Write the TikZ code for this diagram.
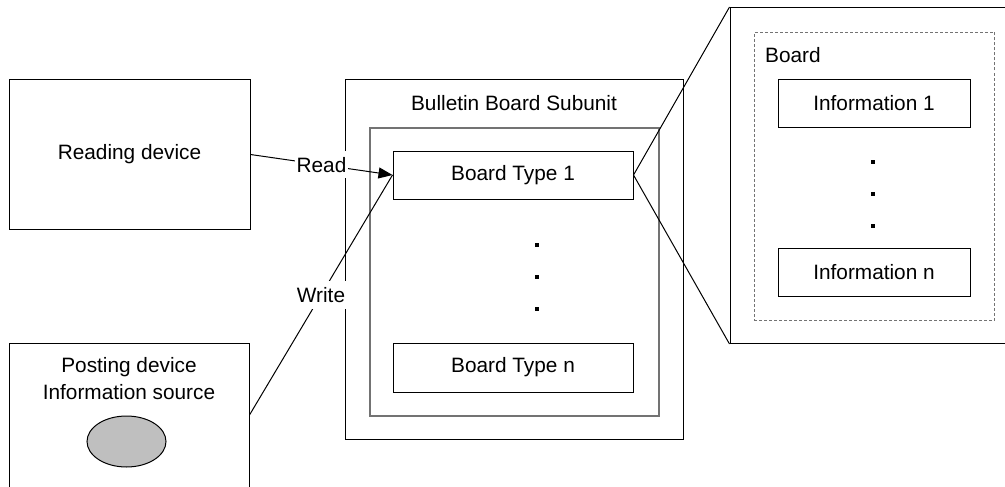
\documentclass[tikz,border=0pt]{standalone}
\usepackage{fontspec}
\setmainfont{Liberation Sans}
\usetikzlibrary{arrows.meta,calc,shapes.geometric}

\tikzset{
  txt/.style={font=\fontsize{20.8}{27}\selectfont, inner sep=0pt},
  box/.style={draw=black, line width=1pt, rectangle, inner sep=0pt, txt},
  graybox/.style={draw=black!55, line width=1.4pt, rectangle, inner sep=0pt},
  dashbox/.style={draw=black!55, line width=1pt, dash pattern=on 3pt off 2pt, rectangle, inner sep=0pt},
  dotmark/.style={fill=black, rectangle, minimum size=3.2pt, inner sep=0pt},
  conn/.style={draw=black, line width=1pt},
  tag/.style={txt, fill=white, inner xsep=1.5pt, inner ysep=6pt},
}

\begin{document}
\begin{tikzpicture}[x=1pt, y=-1pt]
  \clip (0,0) rectangle (1005,487);
  \fill[white] (0,0) rectangle (1005,487);

  % devices on the left
  \node[box, minimum width=241pt, minimum height=149pt] (reading) at (129.5,154.5) {Reading device};
  \node[box, minimum width=240pt, minimum height=170pt, anchor=north] (posting) at (129,343) {};
  \node[txt, align=center] (postlabel) at (129,378.5) {Posting device\\Information source};
  \node[draw=black, line width=1pt, fill=black!25, ellipse, minimum width=79pt, minimum height=51pt, inner sep=0pt] (source) at (126.5,441.5) {};

  % bulletin board subunit
  \node[box, minimum width=338pt, minimum height=359pt] (subunit) at (514,259.5) {};
  \node[txt] (sublabel) at (514,103) {Bulletin Board Subunit};
  \node[graybox, minimum width=289pt, minimum height=288pt] (inner) at (514.5,272) {};
  \node[box, minimum width=240pt, minimum height=48pt] (bt1) at (513,175) {Board Type 1};
  \node[box, minimum width=240pt, minimum height=49pt] (btn) at (513,367.5) {Board Type n};
  \node[dotmark] (d1) at (537,245) {};
  \node[dotmark] (d2) at (537,277) {};
  \node[dotmark] (d3) at (537,309) {};

  % enlarged view of a board
  \node[box, minimum width=290pt, minimum height=336pt, anchor=north west] (zoombox) at (729.5,7) {};
  \node[dashbox, minimum width=240.5pt, minimum height=287.5pt, anchor=north west] (board) at (753.5,32) {};
  \node[txt, anchor=west] (boardlabel) at (765,55) {Board};
  \node[box, minimum width=192pt, minimum height=47pt] (info1) at (874,103.5) {Information 1};
  \node[box, minimum width=192pt, minimum height=48pt] (infon) at (874,272) {Information n};
  \node[dotmark] (e1) at (873,162) {};
  \node[dotmark] (e2) at (873,194) {};
  \node[dotmark] (e3) at (873,226) {};

  % connectors
  \draw[conn] ($(posting.north east)+(0,72)$) -- node[tag] {Write} (bt1.west);
  \draw[conn, -{Triangle[length=14pt,width=11pt]}] (reading.east) -- node[tag] {Read} (bt1.west);
  \draw[conn] (bt1.east) -- (zoombox.north west);
  \draw[conn] (bt1.east) -- (zoombox.south west);
\end{tikzpicture}
\end{document}
